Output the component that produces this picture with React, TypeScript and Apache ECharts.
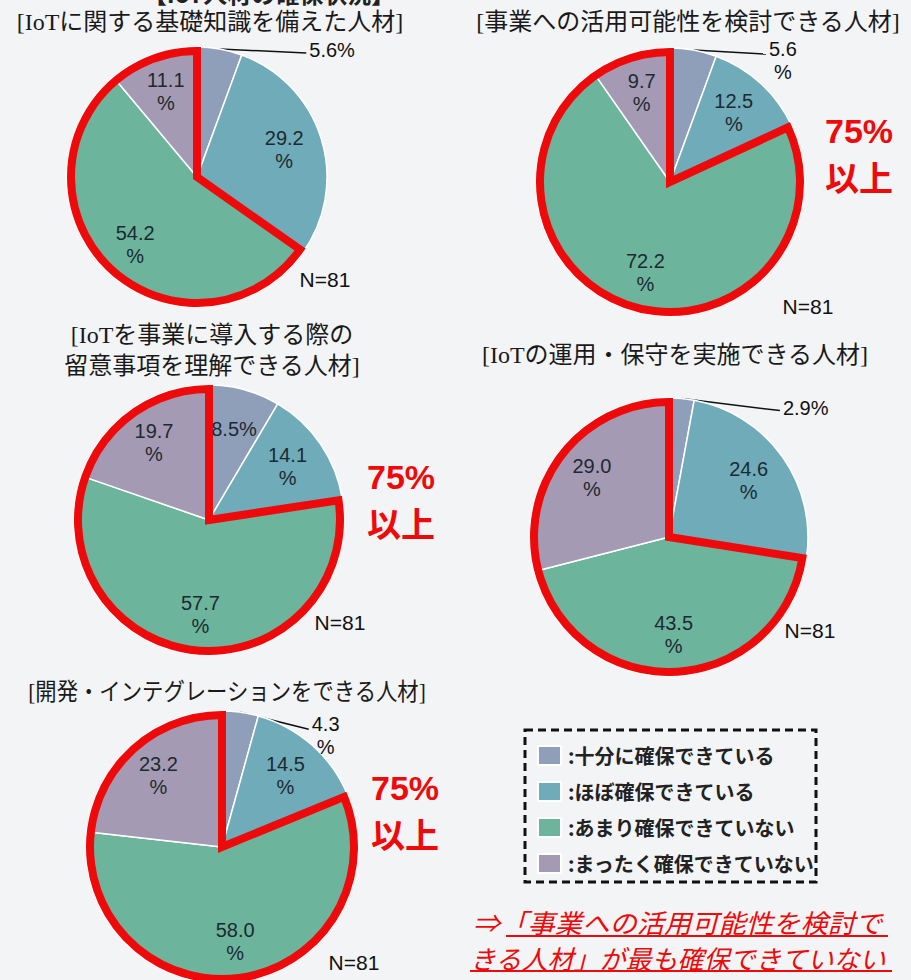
import React, { useEffect, useRef } from 'react';
import * as echarts from 'echarts';

// ---- data ----
const categories = ['十分に確保できている', 'ほぼ確保できている', 'あまり確保できていない', 'まったく確保できていない'];
const basicKnowledge = [5.6, 29.2, 54.2, 11.1];
const businessUse = [5.6, 12.5, 72.2, 9.7];
const introduction = [8.5, 14.1, 57.7, 19.7];
const operation = [2.9, 24.6, 43.5, 29.0];
const development = [4.3, 14.5, 58.0, 23.2];
const sampleLabel = 'N=81';
const badgeLines = ['75%', '以上'];
const topTitle = '【IoT人材の確保状況】';
const conclusionLines = ['⇒「事業への活用可能性を検討で', 'きる人材」が最も確保できていない'];

// ---- styles / layout ----
const colors = ['#8f9fba', '#6fabb8', '#6db49c', '#a49ab4'];
const RED = '#ee0a0a';
const BG = '#f3f4f6';
const JP = "'Noto Sans CJK JP', sans-serif";
const TITLE_FONT = "'Liberation Serif', 'Noto Sans CJK JP', serif";
const NUM_FONT = "'Liberation Sans', Arial, sans-serif";
const LABEL_SIZE = 20;

const pies = [
  { title: ['[IoTに関する基礎知識を備えた人材]'], values: basicKnowledge, singleLine: [0], center: [197, 177], r: 130, titleAt: [210, 22], titleScale: 1, nAt: [325, 279], badgeAt: null, outShift: [12, 4] },
  { title: ['[事業への活用可能性を検討できる人材]'], values: businessUse, singleLine: [], center: [670, 182], r: 134, titleAt: [688, 22], titleScale: 1, nAt: [808, 306], badgeAt: [859, 131], outShift: [-2, 13] },
  { title: ['[IoTを事業に導入する際の', '留意事項を理解できる人材]'], values: introduction, singleLine: [0], center: [209, 520], r: 135, titleAt: [212, 335], titleScale: 1, nAt: [340, 622], badgeAt: [401, 477], outShift: [0, 0] },
  { title: ['[IoTの運用・保守を実施できる人材]'], values: operation, singleLine: [0], center: [669, 537], r: 139, titleAt: [675, 355], titleScale: 1, nAt: [810, 630], badgeAt: null, outShift: [24, 12] },
  { title: ['[開発・インテグレーションをできる人材]'], values: development, singleLine: [], center: [222, 847], r: 136, titleAt: [227, 692], titleScale: 0.89, nAt: [354, 962], badgeAt: [405, 788], outShift: [-6, 26] },
];

const labelRich = (color: string) => ({
  c: { align: 'center', fontSize: LABEL_SIZE, lineHeight: 23, color, fontFamily: NUM_FONT },
});

function buildOption() {
  const series: any[] = [];
  const graphic: any[] = [];

  pies.forEach((p) => {
    const isSingle = (i: number) => p.singleLine.includes(i);
    const fmt = (prm: any) => {
      const v = Number(prm.value).toFixed(1);
      return isSingle(prm.dataIndex) ? `{c|${v}%}` : `{c|${v}}\n{c|%}`;
    };
    // main pie
    series.push({
      type: 'pie',
      center: p.center,
      radius: p.r,
      startAngle: 90,
      clockwise: true,
      z: 2,
      silent: true,
      avoidLabelOverlap: false,
      itemStyle: { borderColor: '#ffffff', borderWidth: 1.5 },
      label: { position: 'outside', formatter: fmt, rich: labelRich('#111'), fontSize: LABEL_SIZE, lineHeight: 23, color: '#111', fontFamily: NUM_FONT },
      labelLine: { length: 3, length2: 72, lineStyle: { color: '#111', width: 1.5 } },
      labelLayout: (prm: any) => {
        const x = prm.labelRect.x + p.outShift[0];
        const y = prm.labelRect.y + prm.labelRect.height / 2 + p.outShift[1];
        const out: any = { x, y, align: 'left', verticalAlign: 'middle' };
        if (prm.labelLinePoints && prm.labelLinePoints.length) {
          const start = prm.labelLinePoints[0];
          out.labelLinePoints = [start, [x - 3, isSingle(prm.dataIndex) ? y + 3 : y - 6]];
        }
        return out;
      },
      data: p.values.map((v, i) => ({ name: categories[i], value: v, itemStyle: { color: colors[i] }, label: { show: v < 6 } })),
    });
    // red outline around the "not secured" part
    series.push({
      type: 'pie',
      center: p.center,
      radius: p.r - 4,
      startAngle: 90,
      clockwise: true,
      z: 4,
      silent: true,
      label: { show: false },
      labelLine: { show: false },
      data: [
        { name: 'secured', value: p.values[0] + p.values[1], itemStyle: { color: 'rgba(0,0,0,0)', borderWidth: 0 } },
        { name: 'notSecured', value: p.values[2] + p.values[3], itemStyle: { color: 'rgba(0,0,0,0)', borderColor: RED, borderWidth: 8, borderJoin: 'miter', borderMiterLimit: 20 } },
      ],
    });
    // inside labels (transparent pie, wider radius places labels at ~0.68 r)
    series.push({
      type: 'pie',
      center: p.center,
      radius: p.r * 1.36,
      startAngle: 90,
      clockwise: true,
      z: 6,
      silent: true,
      avoidLabelOverlap: false,
      itemStyle: { color: 'rgba(0,0,0,0)', borderWidth: 0 },
      label: { position: 'inside', formatter: fmt, rich: labelRich('#1c2a30'), fontSize: LABEL_SIZE, lineHeight: 23, color: '#1c2a30', fontFamily: NUM_FONT },
      labelLine: { show: false },
      data: p.values.map((v, i) => ({ name: categories[i], value: v, label: { show: v >= 6 } })),
    });

    p.title.forEach((t, k) => {
      graphic.push({
        type: 'text', x: p.titleAt[0], y: p.titleAt[1] + k * 31, scaleX: p.titleScale,
        style: { text: t, fontSize: 24, fontFamily: TITLE_FONT, fill: '#1a1a1a', align: 'center', verticalAlign: 'middle' },
      });
    });
    graphic.push({
      type: 'text', x: p.nAt[0], y: p.nAt[1],
      style: { text: sampleLabel, fontSize: 21, fontFamily: NUM_FONT, fill: '#111', align: 'center', verticalAlign: 'middle' },
    });
    if (p.badgeAt) {
      badgeLines.forEach((t, k) => {
        graphic.push({
          type: 'text', x: p.badgeAt![0], y: p.badgeAt![1] + k * 45,
          style: { text: t, fontSize: 34, fontWeight: 'bold', fontFamily: k === 0 ? NUM_FONT : JP, fill: RED, align: 'center', verticalAlign: 'middle' },
        });
      });
    }
  });

  // top heading, cut off by the top edge as in the source
  graphic.push({
    type: 'text', x: 269, y: -8,
    style: { text: topTitle, fontSize: 24, fontFamily: JP, fontWeight: 'bold', fill: '#222', align: 'center', verticalAlign: 'middle' },
  });

  // legend frame
  graphic.push({
    type: 'rect', shape: { x: 525, y: 730, width: 291, height: 152 },
    style: { fill: 'none', stroke: '#111', lineWidth: 3, lineDash: [8, 5] }, z: 1,
  });

  // conclusion
  graphic.push({
    type: 'text', x: 473, y: 922, scaleX: 1.05,
    style: { text: conclusionLines[0], fontSize: 26, fontStyle: 'italic', fontFamily: JP, fill: RED, align: 'left', verticalAlign: 'middle' },
  });
  graphic.push({
    type: 'text', x: 470, y: 957,
    style: { text: conclusionLines[1], fontSize: 26, fontStyle: 'italic', fontFamily: JP, fill: RED, align: 'left', verticalAlign: 'middle' },
  });
  graphic.push({ type: 'line', shape: { x1: 506, y1: 936, x2: 888, y2: 936 }, style: { stroke: RED, lineWidth: 2 } });
  graphic.push({ type: 'line', shape: { x1: 470, y1: 971, x2: 892, y2: 971 }, style: { stroke: RED, lineWidth: 2 } });

  return {
    animation: false,
    backgroundColor: BG,
    legend: {
      data: categories.map((n, i) => ({ name: n, itemStyle: { color: colors[i] } })),
      orient: 'vertical',
      left: 537,
      top: 745,
      padding: 0,
      icon: 'rect',
      itemWidth: 23,
      itemHeight: 19,
      itemGap: 15,
      selectedMode: false,
      formatter: (n: string) => ':' + n,
      textStyle: { fontSize: 20, lineHeight: 20, fontWeight: 'bold', color: '#222', fontFamily: JP, padding: [0, 0, 0, 2] },
    },
    series,
    graphic,
  };
}

export default function App() {
  const ref = useRef<HTMLDivElement>(null);
  useEffect(() => {
    document.body.style.margin = '0';
    document.body.style.background = BG;
    const chart = echarts.init(ref.current!, undefined, { renderer: 'svg' });
    chart.setOption(buildOption() as any);
    return () => chart.dispose();
  }, []);
  return <div ref={ref} style={{ width: 911, height: 980 }} />;
}
